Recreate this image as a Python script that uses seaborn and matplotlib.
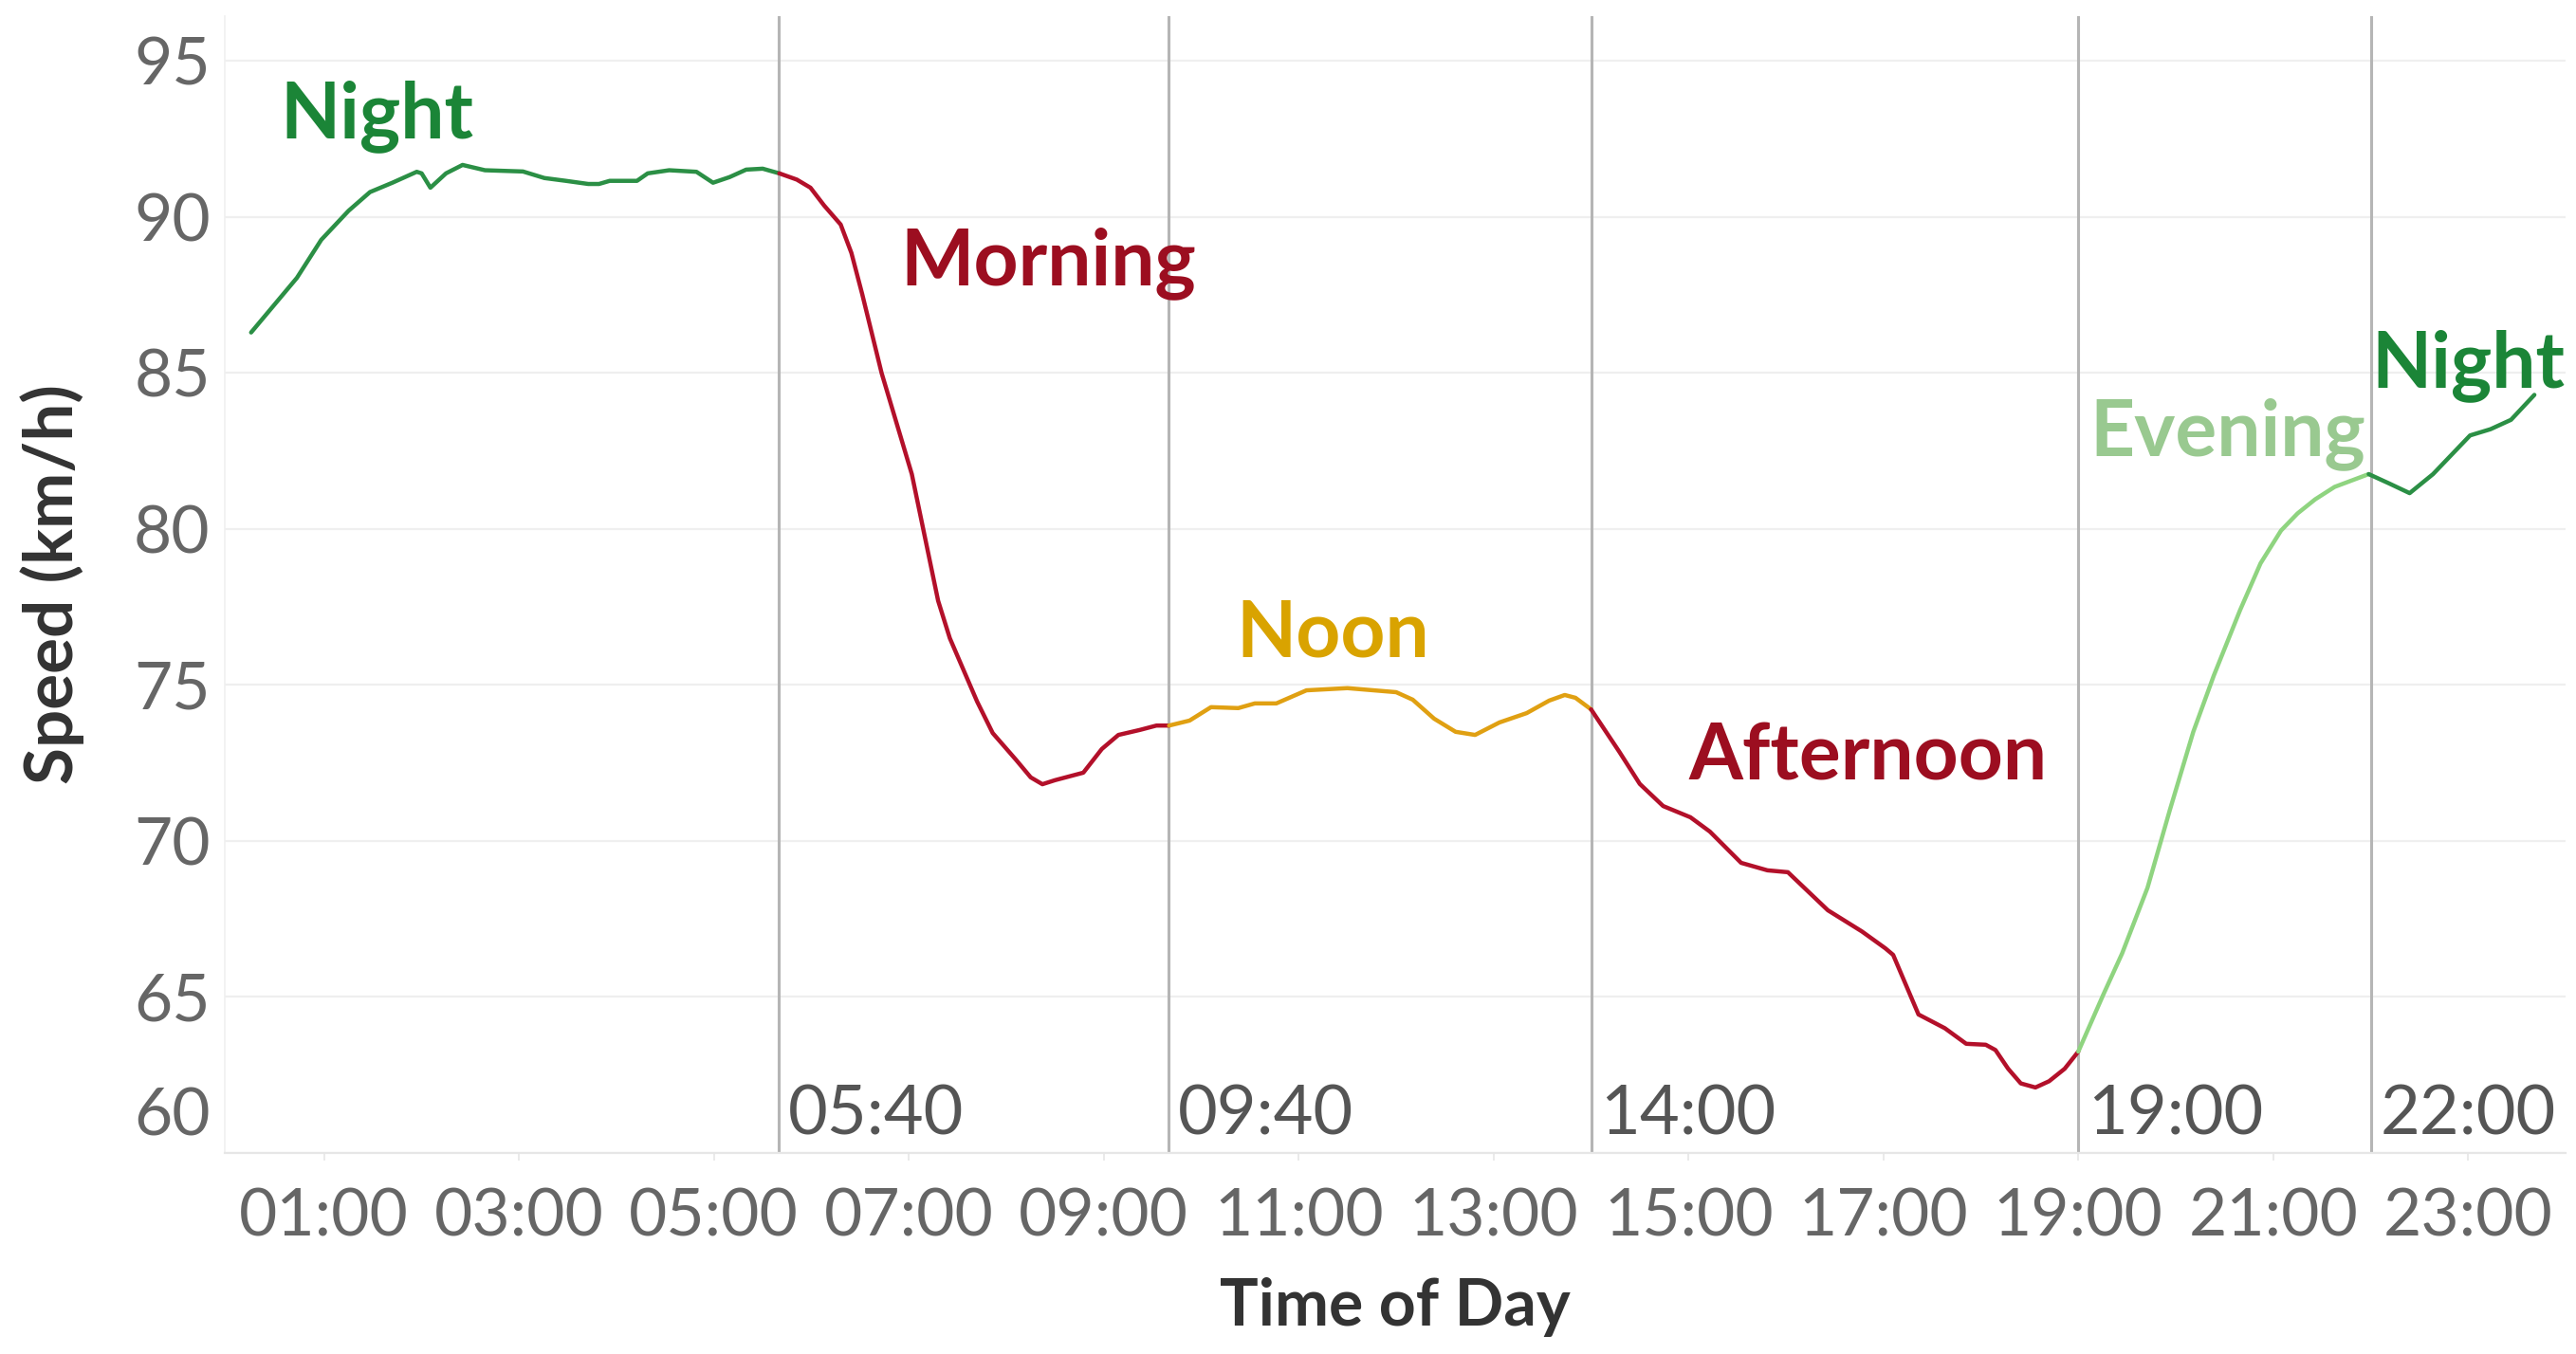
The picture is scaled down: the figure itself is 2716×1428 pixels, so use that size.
import numpy as np
import pandas as pd
import matplotlib
matplotlib.use("Agg")
import matplotlib.pyplot as plt
import matplotlib.transforms as mtrans
import seaborn as sns

# ---------------- data ----------------
night1_h = [0.25, 0.72, 0.97, 1.25, 1.47, 1.70, 1.95, 2.0, 2.09, 2.25, 2.42, 2.65, 3.04, 3.26,
            3.48, 3.71, 3.82, 3.93, 4.21, 4.32, 4.54, 4.82, 4.99, 5.16, 5.33, 5.5, 5.67]
night1_v = [86.3, 88.05, 89.27, 90.2, 90.8, 91.1, 91.45, 91.4, 90.94, 91.4, 91.67, 91.5, 91.46, 91.25,
            91.16, 91.06, 91.06, 91.16, 91.16, 91.4, 91.5, 91.45, 91.1, 91.28, 91.52, 91.55, 91.4]

morning_h = [5.67, 5.85, 5.99, 6.13, 6.3, 6.41, 6.52, 6.72, 7.03, 7.3, 7.42, 7.7, 7.86, 8.1, 8.25,
             8.37, 8.5, 8.79, 8.98, 9.15, 9.37, 9.54, 9.67]
morning_v = [91.4, 91.2, 90.94, 90.37, 89.76, 88.85, 87.54, 85.0, 81.76, 77.7, 76.5, 74.47, 73.46,
             72.6, 72.04, 71.82, 71.95, 72.19, 72.95, 73.4, 73.56, 73.7, 73.7]

noon_h = [9.67, 9.88, 10.1, 10.38, 10.55, 10.77, 11.08, 11.5, 12.0, 12.17, 12.39, 12.61, 12.81,
          13.06, 13.34, 13.57, 13.73, 13.84, 14.0]
noon_v = [73.7, 73.86, 74.29, 74.26, 74.41, 74.41, 74.83, 74.9, 74.77, 74.53, 73.92, 73.5, 73.4,
          73.8, 74.1, 74.5, 74.68, 74.59, 74.22]

afternoon_h = [14.0, 14.29, 14.5, 14.74, 15.02, 15.22, 15.54, 15.81, 16.02, 16.43, 16.78, 17.02,
               17.1, 17.36, 17.63, 17.85, 18.05, 18.15, 18.28, 18.41, 18.56, 18.7, 18.86, 19.0]
afternoon_v = [74.22, 72.86, 71.83, 71.12, 70.76, 70.3, 69.3, 69.06, 69.0, 67.78, 67.1, 66.56,
               66.35, 64.44, 64.0, 63.5, 63.47, 63.3, 62.7, 62.23, 62.1, 62.3, 62.7, 63.25]

evening_h = [19.0, 19.26, 19.45, 19.71, 19.94, 20.18, 20.39, 20.66, 20.87, 21.08, 21.25, 21.43,
             21.63, 21.98]
evening_v = [63.25, 65.1, 66.4, 68.5, 71.0, 73.5, 75.3, 77.4, 78.9, 79.95, 80.5, 80.95, 81.35, 81.76]

night2_h = [21.98, 22.19, 22.4, 22.64, 23.02, 23.23, 23.44, 23.68]
night2_v = [81.76, 81.46, 81.15, 81.76, 83.0, 83.2, 83.5, 84.3]

segments = ["Night (early)", "Morning", "Noon", "Afternoon", "Evening", "Night (late)"]
seg_hours = [night1_h, morning_h, noon_h, afternoon_h, evening_h, night2_h]
seg_speeds = [night1_v, morning_v, noon_v, afternoon_v, evening_v, night2_v]

boundaries = [5 + 40 / 60, 9 + 40 / 60, 14.0, 19.0, 22.0]
boundary_labels = ["05:40", "09:40", "14:00", "19:00", "22:00"]

x_ticks = [1, 3, 5, 7, 9, 11, 13, 15, 17, 19, 21, 23]
x_tick_labels = ["01:00", "03:00", "05:00", "07:00", "09:00", "11:00", "13:00",
                 "15:00", "17:00", "19:00", "21:00", "23:00"]
y_ticks = [60, 65, 70, 75, 80, 85, 90, 95]

period_labels = ["Night", "Morning", "Noon", "Afternoon", "Evening", "Night"]
period_label_x = [0.55, 6.91, 10.36, 15.0, 19.12, 22.01]
period_label_y = [92.55, 87.84, 75.9, 71.95, 82.37, 84.56]

# ---------------- style ----------------
line_colors = {"Night (early)": "#2b8f45", "Morning": "#b3102a", "Noon": "#e0a012",
               "Afternoon": "#b3102a", "Evening": "#8fd480", "Night (late)": "#2b8f45"}
text_colors = ["#1b8537", "#9c0e20", "#d9a300", "#9c0e20", "#99c990", "#1b8537"]

sns.set_theme(style="white")
plt.rcParams["font.family"] = ["Lato", "DejaVu Sans"]

rows = []
for name, hs, vs in zip(segments, seg_hours, seg_speeds):
    for h, v in zip(hs, vs):
        rows.append({"hour": h, "speed": v, "segment": name})
df = pd.DataFrame(rows)

DPI = 100
fig = plt.figure(figsize=(27.16, 14.28), dpi=DPI)
W, H = 2716, 1428
left, right, top, bottom = 237, 2705, 17, 1216
ax = fig.add_axes([left / W, 1 - bottom / H, (right - left) / W, (bottom - top) / H])

for x in boundaries:
    ax.axvline(x, color="#b5b5b5", lw=2.2, zorder=1)

sns.lineplot(data=df, x="hour", y="speed", hue="segment", palette=line_colors,
             hue_order=segments, estimator=None, sort=False, legend=False,
             linewidth=3.2, ax=ax, zorder=3)
for ln in ax.get_lines():
    ln.set_solid_joinstyle("round")
    ln.set_solid_capstyle("round")

ax.set_xlim(-0.02, 24.0)
ax.set_ylim(60, 96.44)

ax.set_yticks(y_ticks)
ax.set_yticklabels([str(t) for t in y_ticks])
ax.set_xticks(x_ticks)
ax.set_xticklabels(x_tick_labels)

ax.yaxis.grid(True, color="#efefef", lw=1.6, zorder=0)
ax.xaxis.grid(False)
for s in ["top", "right"]:
    ax.spines[s].set_visible(False)
ax.spines["left"].set_color("#f0f0f0")
ax.spines["left"].set_linewidth(1.2)
ax.spines["bottom"].set_color("#e6e6e6")
ax.spines["bottom"].set_linewidth(1.6)

ax.tick_params(axis="y", length=0, pad=11, labelsize=50, labelcolor="#666666")
ax.tick_params(axis="x", length=6, width=1.2, color="#e6e6e6", pad=20,
               labelsize=50, labelcolor="#666666", bottom=True)

# shift the lowest y tick label up (as in the reference)
lab60 = ax.yaxis.get_major_ticks()[0].label1
lab60.set_transform(lab60.get_transform() + mtrans.ScaledTranslation(0, 0.44, fig.dpi_scale_trans))

ax.set_xlabel("Time of Day", fontsize=49, fontweight="bold", color="#333333")
ax.set_ylabel("Speed (km/h)", fontsize=51, fontweight="bold", color="#333333")
ax.xaxis.set_label_coords(0.5, -0.109)
ax.yaxis.set_label_coords(-0.060, 0.5)

for x, lab in zip(boundaries, boundary_labels):
    ax.annotate(lab, xy=(x, 60.6), xytext=(7, 0), textcoords="offset points",
                ha="left", va="baseline", fontsize=52, color="#555555", zorder=4)

for lab, x, y, c in zip(period_labels, period_label_x, period_label_y, text_colors):
    ax.text(x, y, lab, ha="left", va="baseline", fontsize=59, fontweight="bold",
            color=c, zorder=5)

fig.savefig("out.png", dpi=DPI, facecolor="white")
